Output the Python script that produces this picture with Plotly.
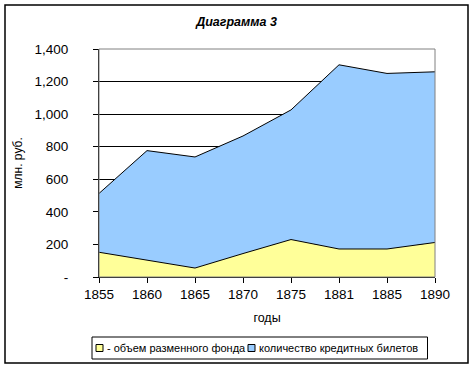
import plotly.graph_objects as go

# ---- data ----
years = ["1855", "1860", "1865", "1870", "1875", "1881", "1885", "1890"]
fund = [152, 103, 55, 144, 230, 172, 172, 212]          # объем разменного фонда
notes = [361, 673, 682, 722, 796, 1131, 1078, 1048]     # количество кредитных билетов
series_names = ["- объем разменного фонда", "количество кредитных билетов"]
series_colors = ["#FFFF99", "#99CCFF"]
y_tickvals = [0, 200, 400, 600, 800, 1000, 1200, 1400]
y_ticktext = ["-", "200", "400", "600", "800", "1,000", "1,200", "1,400"]

W, H = 473, 368
L, R, T, B = 99, 38, 49, 91
pw, ph = W - L - R, H - T - B
FONT = "Liberation Sans, Arial, sans-serif"


def pxx(px):
    return (px - L) / pw


def pxy(py):
    return (H - B - py) / ph


fig = go.Figure()
for vals, name, col in zip([fund, notes], series_names, series_colors):
    fig.add_trace(go.Scatter(
        x=years, y=vals, name=name, stackgroup="one",
        mode="lines", line=dict(color="#000000", width=1), fillcolor=col))

shapes = [
    # gray plot-area frame
    dict(type="rect", xref="paper", yref="paper", x0=0, x1=1, y0=0, y1=1,
         line=dict(color="#808080", width=1), layer="above"),
    # chart outer border
    dict(type="rect", xref="paper", yref="paper",
         x0=pxx(5), x1=pxx(468), y0=pxy(363), y1=pxy(5),
         line=dict(color="#000000", width=1.5), layer="below"),
    # legend box
    dict(type="rect", xref="paper", yref="paper",
         x0=pxx(92), x1=pxx(427.5), y0=pxy(359), y1=pxy(337),
         line=dict(color="#000000", width=1), fillcolor="white", layer="below"),
]
annotations = []
legend_x = [96, 248]
for lx, name, col in zip(legend_x, series_names, series_colors):
    shapes.append(dict(type="rect", xref="paper", yref="paper",
                       x0=pxx(lx), x1=pxx(lx + 7), y0=pxy(351.5), y1=pxy(344.5),
                       line=dict(color="#000000", width=1), fillcolor=col,
                       layer="above"))
    annotations.append(dict(text=name, xref="paper", yref="paper",
                            x=pxx(lx + 9), y=pxy(348), xanchor="left",
                            yanchor="middle", showarrow=False,
                            font=dict(size=11, family=FONT, color="#000000")))

fig.update_layout(
    width=W, height=H,
    margin=dict(l=L, r=R, t=T, b=B, autoexpand=False),
    paper_bgcolor="white", plot_bgcolor="white",
    font=dict(family=FONT, color="#000000"),
    title=dict(text="Диаграмма 3", x=0.5, xanchor="center", xref="container",
               y=1 - 22 / H, yanchor="middle", yref="container",
               font=dict(size=12.5, weight="bold", style="italic")),
    showlegend=False,
    xaxis=dict(type="category", range=[0, len(years) - 1], showgrid=False,
               showline=True, linecolor="#000000", linewidth=1,
               ticks="outside", ticklen=5, tickcolor="#000000",
               tickfont=dict(size=13.5), zeroline=False, automargin=False,
               title=dict(text="годы", font=dict(size=12.5), standoff=12)),
    yaxis=dict(range=[0, 1400], tickvals=y_tickvals, ticktext=y_ticktext,
               showgrid=True, gridcolor="#000000", gridwidth=1,
               showline=True, linecolor="#000000", linewidth=1,
               ticks="outside", ticklen=5, tickcolor="#000000",
               tickfont=dict(size=13.5), zeroline=False, automargin=False,
               ticklabelstandoff=22,
               title=dict(text="млн. руб.", font=dict(size=12), standoff=9)),
    shapes=shapes,
    annotations=annotations,
)

fig.write_html("out.html", config={"displayModeBar": False},
               post_script="document.body.style.margin='0';"
                           "document.body.style.overflow='hidden';")
